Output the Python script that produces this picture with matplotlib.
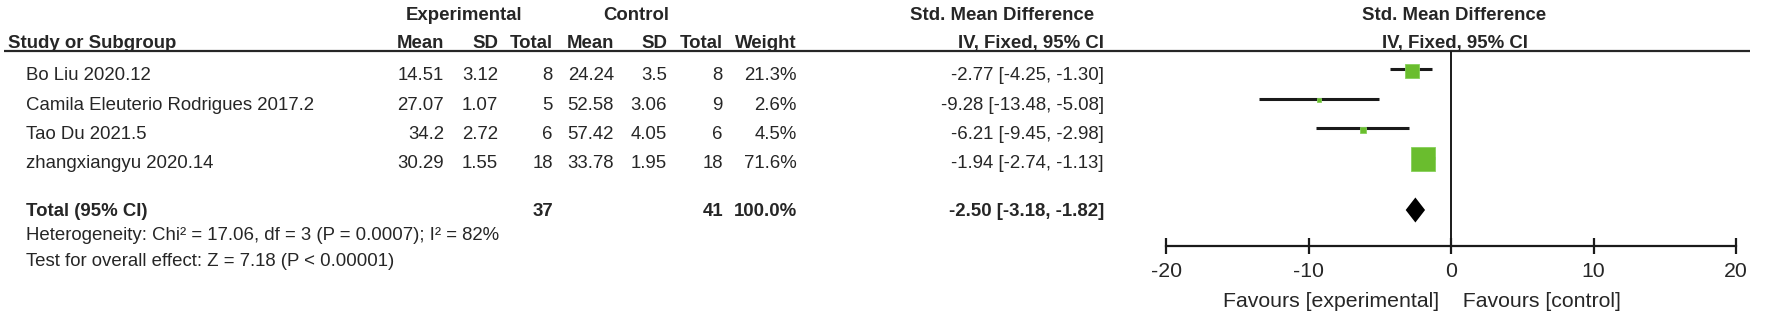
import matplotlib
matplotlib.use("Agg")
import matplotlib.pyplot as plt
import matplotlib.transforms as mtransforms

plt.rcParams['font.family'] = ['Liberation Sans', 'DejaVu Sans']
plt.rcParams['axes.unicode_minus'] = False

# ---------------- data ----------------
studies = ["Bo Liu 2020.12", "Camila Eleuterio Rodrigues 2017.2",
           "Tao Du 2021.5", "zhangxiangyu 2020.14"]
exp_mean = [14.51, 27.07, 34.2, 30.29]
exp_sd = [3.12, 1.07, 2.72, 1.55]
exp_n = [8, 5, 6, 18]
ctl_mean = [24.24, 52.58, 57.42, 33.78]
ctl_sd = [3.5, 3.06, 4.05, 1.95]
ctl_n = [8, 9, 6, 18]
weight = [21.3, 2.6, 4.5, 71.6]
smd = [-2.77, -9.28, -6.21, -1.94]
ci_lo = [-4.25, -13.48, -9.45, -2.74]
ci_hi = [-1.30, -5.08, -2.98, -1.13]
total_n_exp = 37
total_n_ctl = 41
total_weight = 100.0
total_smd = -2.50
total_lo = -3.18
total_hi = -1.82
heterogeneity = "Heterogeneity: Chi² = 17.06, df = 3 (P = 0.0007); I² = 82%"
overall = "Test for overall effect: Z = 7.18 (P < 0.00001)"
x_ticks = [-20, -10, 0, 10, 20]
favours_left = "Favours [experimental]"
favours_right = "Favours [control]"

# ---------------- layout (pixels) ----------------
W, H = 1772, 313
fig = plt.figure(figsize=(W / 100, H / 100), dpi=100)
tax = fig.add_axes([0, 0, 1, 1])
tax.set_xlim(0, W)
tax.set_ylim(H, 0)
tax.axis('off')

TXT = '#262626'
FS = 13.45
FS_AX = 15.3
GREEN = '#6ABD2E'

y_h1, y_h2, y_line = 13.6, 41.8, 50.9
row_y = [73.5, 103.0, 132.5, 162.0]
y_total, y_het, y_test = 210.0, 234.0, 259.0
y_axis = 246.4
y_fav = 299.5

x_label_hdr, x_label = 8, 26
x_em, x_esd, x_en = 444, 498, 553
x_cm, x_csd, x_cn = 614, 667, 723
x_w, x_ci = 797, 1104
x_left, x_right = 1166, 1736   # -20 .. 20


def t(x, y, s, ha='right', bold=False, fs=FS):
    tax.text(x, y, s, ha=ha, va='center_baseline', fontsize=fs, color=TXT,
             fontweight='bold' if bold else 'normal')


# headers
t(464, y_h1, "Experimental", ha='center', bold=True)
t(636, y_h1, "Control", ha='center', bold=True)
t(1002, y_h1, "Std. Mean Difference", ha='center', bold=True)
t((x_left + x_right) / 2 + 3, y_h1, "Std. Mean Difference", ha='center', bold=True)
t(x_label_hdr, y_h2, "Study or Subgroup", ha='left', bold=True)
for x, s in [(x_em, "Mean"), (x_esd, "SD"), (x_en, "Total"), (x_cm, "Mean"),
             (x_csd, "SD"), (x_cn, "Total"), (x_w, "Weight"), (x_ci, "IV, Fixed, 95% CI")]:
    t(x, y_h2, s, bold=True)
t((x_left + x_right) / 2 + 4, y_h2, "IV, Fixed, 95% CI", ha='center', bold=True)
tax.plot([4, 1750], [y_line, y_line], color=TXT, lw=1.6, solid_capstyle='butt')

# study rows
for i, y in enumerate(row_y):
    t(x_label, y, studies[i], ha='left')
    t(x_em, y, str(exp_mean[i]))
    t(x_esd, y, str(exp_sd[i]))
    t(x_en, y, str(exp_n[i]))
    t(x_cm, y, str(ctl_mean[i]))
    t(x_csd, y, str(ctl_sd[i]))
    t(x_cn, y, str(ctl_n[i]))
    t(x_w, y, f"{weight[i]:.1f}%")
    t(x_ci, y, f"{smd[i]:.2f} [{ci_lo[i]:.2f}, {ci_hi[i]:.2f}]")

# total
t(x_label, y_total, "Total (95% CI)", ha='left', bold=True)
t(x_en, y_total, str(total_n_exp), bold=True)
t(x_cn, y_total, str(total_n_ctl), bold=True)
t(x_w, y_total, f"{total_weight:.1f}%", bold=True)
t(x_ci, y_total, f"{total_smd:.2f} [{total_lo:.2f}, {total_hi:.2f}]", bold=True)
t(x_label, y_het, heterogeneity, ha='left')
t(x_label, y_test, overall, ha='left')

# ---------------- forest axes ----------------
ax = fig.add_axes([x_left / W, 1 - y_axis / H, (x_right - x_left) / W, (y_axis - y_line) / H])
ax.set_xlim(x_ticks[0], x_ticks[-1])
ax.set_ylim(y_axis, y_line)
ax.patch.set_visible(False)
for s in ['top', 'left', 'right']:
    ax.spines[s].set_visible(False)
ax.spines['bottom'].set_linewidth(1.6)
ax.spines['bottom'].set_color('#1a1a1a')
ax.set_yticks([])
ax.set_xticks(x_ticks)
ax.set_xticklabels([str(v) for v in x_ticks])
ax.tick_params(axis='x', direction='inout', length=12, width=1.6, color='#1a1a1a',
               labelsize=FS_AX, labelcolor=TXT, pad=5)

ax.axvline(0, color='#1a1a1a', lw=1.4)

off = 4
for i, y in enumerate(row_y):
    ym = y - off
    ax.plot([ci_lo[i], ci_hi[i]], [ym, ym], color='#1a1a1a', lw=2.2, solid_capstyle='butt', zorder=2)
    side_px = 24.5 * (weight[i] / max(weight)) ** 0.5
    ax.plot(smd[i], ym + 1.5, marker='s', linestyle='none', markersize=side_px * 0.72,
            markerfacecolor=GREEN, markeredgecolor='#86D05A', markeredgewidth=0.6, zorder=3)

hd = 12.5
ax.fill([total_lo, total_smd, total_hi, total_smd],
        [y_total, y_total - hd, y_total, y_total + hd], color='black', lw=0, zorder=3)

blend = mtransforms.blended_transform_factory(ax.transData, tax.transData)
tax.text(0, y_fav, favours_left + "  ", transform=blend, ha='right', va='center_baseline',
         fontsize=FS_AX, color=TXT)
tax.text(0, y_fav, "  " + favours_right, transform=blend, ha='left', va='center_baseline',
         fontsize=FS_AX, color=TXT)

fig.savefig("out.png", dpi=100)
